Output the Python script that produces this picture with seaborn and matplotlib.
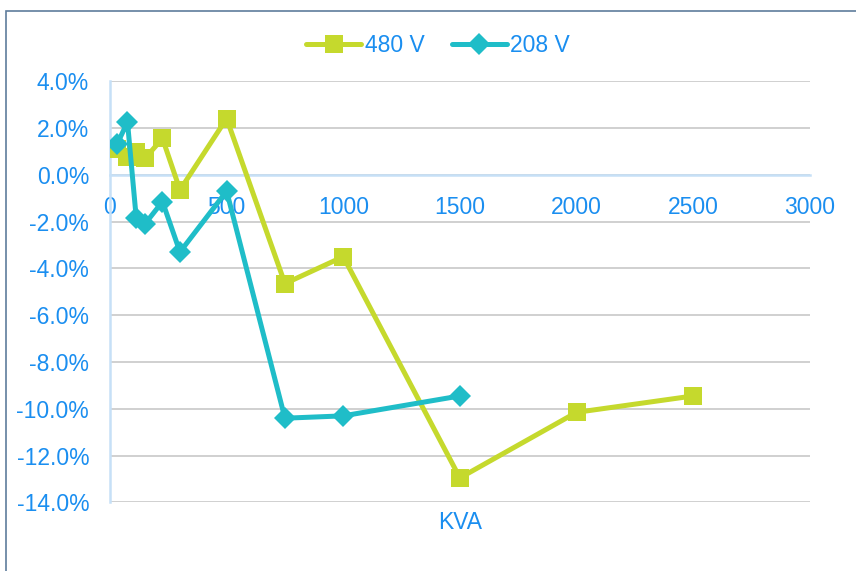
import pandas as pd
import matplotlib.pyplot as plt
import seaborn as sns
from matplotlib.ticker import FuncFormatter, MultipleLocator
from matplotlib.patches import Rectangle

# data
kva_480 = [30, 75, 112.5, 150, 225, 300, 500, 750, 1000, 1500, 2000, 2500]
err_480 = [1.1, 0.75, 0.95, 0.7, 1.55, -0.65, 2.4, -4.65, -3.5, -12.95, -10.15, -9.45]

kva_208 = [30, 75, 112.5, 150, 225, 300, 500, 750, 1000, 1500]
err_208 = [1.3, 2.25, -1.85, -2.1, -1.15, -3.3, -0.7, -10.4, -10.3, -9.45]

series = ['480 V', '208 V']
colors = ['#c5d92d', '#1fbdc8']
markers = ['s', 'D']

df = pd.concat([
    pd.DataFrame({'KVA': kva_480, 'err': err_480, 'series': '480 V'}),
    pd.DataFrame({'KVA': kva_208, 'err': err_208, 'series': '208 V'}),
])

sns.set_theme(style="white")
plt.rcParams['font.family'] = ['Liberation Sans', 'DejaVu Sans']
blue = '#1a8ef0'

fig = plt.figure(figsize=(8.56, 5.71), dpi=100)
ax = fig.add_axes([0.1285, 0.12, 0.8175, 0.738])

for s, c, m in zip(series, colors, markers):
    sub = df[df['series'] == s]
    sns.lineplot(data=sub, x='KVA', y='err', ax=ax, color=c, marker=m,
                 linewidth=3.6, markersize=13.5 if m == 's' else 11,
                 markeredgewidth=0, label=s, sort=False)

ax.set_xlim(0, 3000)
ax.set_ylim(-14, 4)
ax.xaxis.set_major_locator(MultipleLocator(500))
ax.yaxis.set_major_locator(MultipleLocator(2))
ax.yaxis.set_major_formatter(FuncFormatter(lambda v, p: f'{v:.1f}%'))

ax.grid(axis='y', color='#c8c8c8', linewidth=1.2, zorder=0.5)
ax.grid(axis='x', visible=False)
ax.set_axisbelow(True)

for side in ['top', 'right']:
    ax.spines[side].set_visible(False)
ax.spines['bottom'].set_position(('data', 0))
ax.spines['bottom'].set_color('#c6e0f7')
ax.spines['bottom'].set_linewidth(1.8)
ax.spines['bottom'].set_zorder(1.5)
ax.spines['left'].set_color('#c6e0f7')
ax.spines['left'].set_linewidth(1.8)
ax.spines['left'].set_zorder(1.5)

ax.tick_params(axis='x', length=0, pad=15, labelsize=16.5, labelcolor=blue)
ax.tick_params(axis='y', length=0, pad=15, labelsize=16.5, labelcolor=blue)

ax.set_ylabel('')
ax.set_xlabel('')
fig.text(0.5374, 0.085, 'KVA', ha='center', va='center', fontsize=16.5, color=blue)

leg = ax.legend(loc='center', bbox_to_anchor=(0.469, 1.085), ncol=2, frameon=False,
                fontsize=16.5, handlelength=2.4, handletextpad=0.15, columnspacing=1.2)
for t in leg.get_texts():
    t.set_color(blue)

# chart area border
fig.patches.append(Rectangle((5.5 / 856, -0.1), 1.1, 1.1 - 11.5 / 571,
                             transform=fig.transFigure, fill=False,
                             edgecolor='#5f7d9c', linewidth=1.2))

fig.savefig('out.png', dpi=100)
